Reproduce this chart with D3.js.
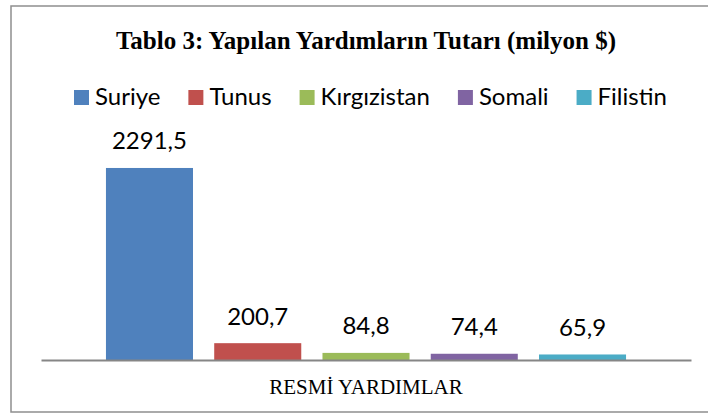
<!DOCTYPE html>
<html>
<head>
<meta charset="utf-8">
<script src="https://cdn.jsdelivr.net/npm/d3@7"></script>
<style>
  body { margin: 0; background: #fff; }
  svg { display: block; }
</style>
</head>
<body>
<script>
// veriler
const categories = ["RESMİ YARDIMLAR"];
const series = ["Suriye", "Tunus", "Kırgızistan", "Somali", "Filistin"];
const values = [2291.5, 200.7, 84.8, 74.4, 65.9];
const colors = ["#4F81BD", "#C0504D", "#9BBB59", "#8064A2", "#4BACC6"];
const title = "Tablo 3: Yapılan Yardımların Tutarı (milyon $)";

const W = 708, H = 414;
const svg = d3.select("body").append("svg")
    .attr("width", W)
    .attr("height", H);

// cerceve
svg.append("rect")
    .attr("x", 11).attr("y", 6)
    .attr("width", 720).attr("height", 406)
    .attr("fill", "#fff")
    .attr("stroke", "#8e8e8e")
    .attr("stroke-width", 1.5);

// olcekler
const yScale = d3.scaleLinear().domain([0, 2500]).range([360, 150.5]);
const xCat = d3.scaleBand().domain(categories).range([41, 691]);
const xSer = d3.scaleBand().domain(series).range([41, 691])
    .paddingInner(0.196).paddingOuter(0.6);
const color = d3.scaleOrdinal().domain(series).range(colors);
const fmt = v => d3.format(".1f")(v).replace(".", ",");

// baslik
svg.append("text")
    .attr("x", 366).attr("y", 49)
    .attr("text-anchor", "middle")
    .attr("font-family", "Liberation Serif, Times New Roman, serif")
    .attr("font-weight", "bold")
    .attr("font-size", 25)
    .attr("fill", "#000")
    .text(title);

// lejant
const legend = svg.append("g").attr("class", "legend");
let lx = 74;
series.forEach((s, i) => {
    const g = legend.append("g").attr("transform", "translate(" + lx + ",0)");
    g.append("rect")
        .attr("x", 0).attr("y", 90)
        .attr("width", 15).attr("height", 15)
        .attr("fill", color(s));
    const t = g.append("text")
        .attr("x", 21).attr("y", 104.5)
        .attr("font-family", "Lato, sans-serif")
        .attr("font-size", 24)
        .attr("fill", "#000")
        .text(s);
    lx += 21 + t.node().getComputedTextLength() + 28;
});

// barlar
const bars = series.map((s, i) => ({ name: s, value: values[i] }));
svg.selectAll(".bar")
    .data(bars)
    .enter().append("rect")
    .attr("class", "bar")
    .attr("x", d => xSer(d.name))
    .attr("width", xSer.bandwidth())
    .attr("y", d => yScale(d.value))
    .attr("height", d => yScale(0) - yScale(d.value))
    .attr("fill", d => color(d.name));

// eksen
const axis = svg.append("g")
    .attr("transform", "translate(0," + yScale(0) + ")")
    .call(d3.axisBottom(xCat).tickSize(0).tickPadding(19));
axis.select(".domain")
    .attr("stroke", "#868686")
    .attr("stroke-width", 2);
axis.selectAll("text")
    .attr("font-family", "Liberation Serif, Times New Roman, serif")
    .attr("font-size", 21)
    .attr("fill", "#000");

// etiketler
svg.selectAll(".label")
    .data(bars)
    .enter().append("text")
    .attr("class", "label")
    .attr("x", d => xSer(d.name) + xSer.bandwidth() / 2)
    .attr("y", d => yScale(d.value) - 18.5)
    .attr("text-anchor", "middle")
    .attr("font-family", "Lato, sans-serif")
    .attr("font-size", 24)
    .attr("fill", "#000")
    .text(d => fmt(d.value));
</script>
</body>
</html>
